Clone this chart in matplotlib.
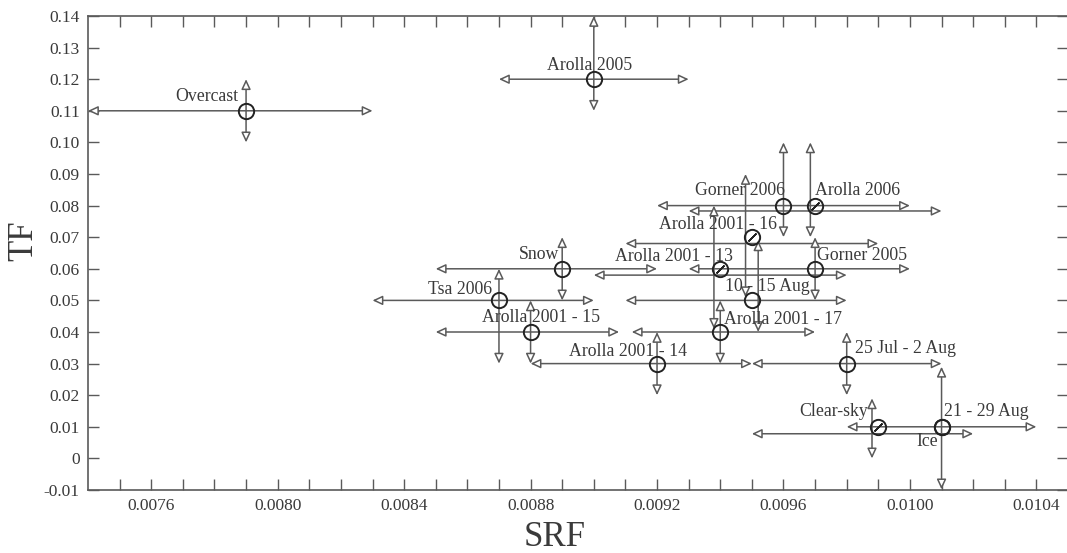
import numpy as np
import matplotlib
matplotlib.use('Agg')
import matplotlib.pyplot as plt

# Punti (centri dei cerchi)
names = ['Overcast', 'Arolla 2005', 'Gorner 2006', 'Arolla 2006', 'Arolla 2001 - 16',
         'Snow', 'Arolla 2001 - 13', 'Gorner 2005', '10 - 15 Aug', 'Tsa 2006',
         'Arolla 2001 - 15', 'Arolla 2001 - 17', 'Arolla 2001 - 14', '25 Jul - 2 Aug',
         'Clear-sky', '21 - 29 Aug', 'Ice']
srf = [0.0079, 0.0090, 0.0096, 0.0097, 0.0095,
       0.0089, 0.0094, 0.0097, 0.0095, 0.0087,
       0.0088, 0.0094, 0.0092, 0.0098,
       0.0099, 0.0101, 0.0101]
tf = [0.11, 0.12, 0.08, 0.08, 0.07,
      0.06, 0.06, 0.06, 0.05, 0.05,
      0.04, 0.04, 0.03, 0.03,
      0.01, 0.01, 0.01]
slashed = [False, False, False, True, True,
           False, True, False, False, False,
           False, False, False, False,
           True, False, False]

# Intervalli orizzontali (SRF): y, min, max
h_y = [0.11, 0.12, 0.08, 0.0783, 0.068, 0.06, 0.06, 0.058, 0.05, 0.05,
       0.04, 0.04, 0.03, 0.03, 0.01, 0.0078]
h_lo = [0.0074, 0.0087, 0.0092, 0.0093, 0.0091, 0.0085, 0.0093, 0.0090, 0.0091, 0.0083,
        0.0085, 0.00912, 0.0088, 0.0095, 0.0098, 0.0095]
h_hi = [0.0083, 0.0093, 0.0100, 0.0101, 0.0099, 0.0092, 0.0100, 0.0098, 0.0098, 0.0090,
        0.00908, 0.0097, 0.0095, 0.0101, 0.0104, 0.0102]

# Intervalli verticali (TF): x, min, max
v_x = [0.0079, 0.0090, 0.0096, 0.009685, 0.00948, 0.00952, 0.0089, 0.00938, 0.0097,
       0.0087, 0.0088, 0.0094, 0.0092, 0.0098, 0.00988, 0.0101]
v_lo = [0.10, 0.11, 0.07, 0.07, 0.051, 0.04, 0.05, 0.041, 0.05,
        0.03, 0.03, 0.03, 0.02, 0.02, 0.0, -0.0098]
v_hi = [0.12, 0.14, 0.10, 0.10, 0.09, 0.069, 0.07, 0.08, 0.07,
        0.06, 0.05, 0.05, 0.04, 0.04, 0.019, 0.029]

x_ticks = [0.0076, 0.0080, 0.0084, 0.0088, 0.0092, 0.0096, 0.0100, 0.0104]
x_ticklabels = ['0.0076', '0.0080', '0.0084', '0.0088', '0.0092', '0.0096', '0.0100', '0.0104']
y_ticks = [0.14, 0.13, 0.12, 0.11, 0.10, 0.09, 0.08, 0.07, 0.06, 0.05, 0.04, 0.03, 0.02, 0.01, 0.0, -0.01]
y_ticklabels = ['0.14', '0.13', '0.12', '0.11', '0.10', '0.09', '0.08', '0.07', '0.06', '0.05',
                '0.04', '0.03', '0.02', '0.01', '0', '-0.01']

# posizione etichette (pixel rispetto al punto)
lab_dx = [-8, -4, 2, 0, 25, -3, 13, 2, -27, -7, -49, 4, 30, 8, -10, 2, -4]
lab_dy = [14, 14, 15, 15, 13, 14, 12, 13, 14, 11, 14, 13, 12, 15, 15, 15, -15]
lab_ha = ['right', 'center', 'right', 'left', 'right', 'right', 'right', 'left', 'left',
          'right', 'left', 'left', 'right', 'left', 'right', 'left', 'right']

plt.rcParams['font.family'] = ['Liberation Serif', 'DejaVu Serif']
txt_col = '#3a3a3a'
line_col = '#5a5a5a'

fig = plt.figure(figsize=(10.67, 5.53), dpi=100)
ax = fig.add_axes([88 / 1067, 63 / 553, 980 / 1067, 474 / 553])

arr = dict(arrowstyle='<|-|>,head_length=0.6,head_width=0.28', color=line_col,
           fc='white', lw=1.1, shrinkA=0, shrinkB=0, mutation_scale=10)
for y, a, b in zip(h_y, h_lo, h_hi):
    ax.annotate('', xy=(b, y), xytext=(a, y), arrowprops=arr, annotation_clip=False)
for x, a, b in zip(v_x, v_lo, v_hi):
    ax.annotate('', xy=(x, b), xytext=(x, a), arrowprops=arr, annotation_clip=False)

ax.plot(srf, tf, 'o', mfc='none', mec='#222222', ms=11, mew=1.4, zorder=5)
sx = [x for x, s in zip(srf, slashed) if s]
sy = [y for y, s in zip(tf, slashed) if s]
ax.plot(sx, sy, marker=(2, 2, -45), ls='none', mec='#222222', ms=8, mew=1.1, zorder=5)

for n, x, y, dx, dy, ha in zip(names, srf, tf, lab_dx, lab_dy, lab_ha):
    ax.annotate(n, (x, y), xytext=(dx, dy), textcoords='offset pixels',
                ha=ha, va='center', fontsize=12.8, color=txt_col)

ax.set_xlim(0.0074, 0.0105)
ax.set_ylim(-0.01, 0.14)
ax.set_xticks(x_ticks)
ax.set_xticklabels(x_ticklabels)
ax.set_xticks(np.arange(0.0075, 0.01045, 0.0001), minor=True)
ax.set_yticks(y_ticks)
ax.set_yticklabels(y_ticklabels)

ax.tick_params(which='both', direction='in', length=8, width=1.0, color=line_col,
               top=True, right=True, labelsize=12.5, labelcolor=txt_col, pad=6)
for s in ax.spines.values():
    s.set_color(line_col)
    s.set_linewidth(1.2)

ax.set_xlabel('SRF', fontsize=25, color=txt_col, va='center')
ax.xaxis.set_label_coords(0.4765, -0.101)
ax.set_ylabel('TF', fontsize=25, color=txt_col, va='center')
ax.yaxis.set_label_coords(-0.066, 0.527)

fig.savefig('out.png', dpi=100)
